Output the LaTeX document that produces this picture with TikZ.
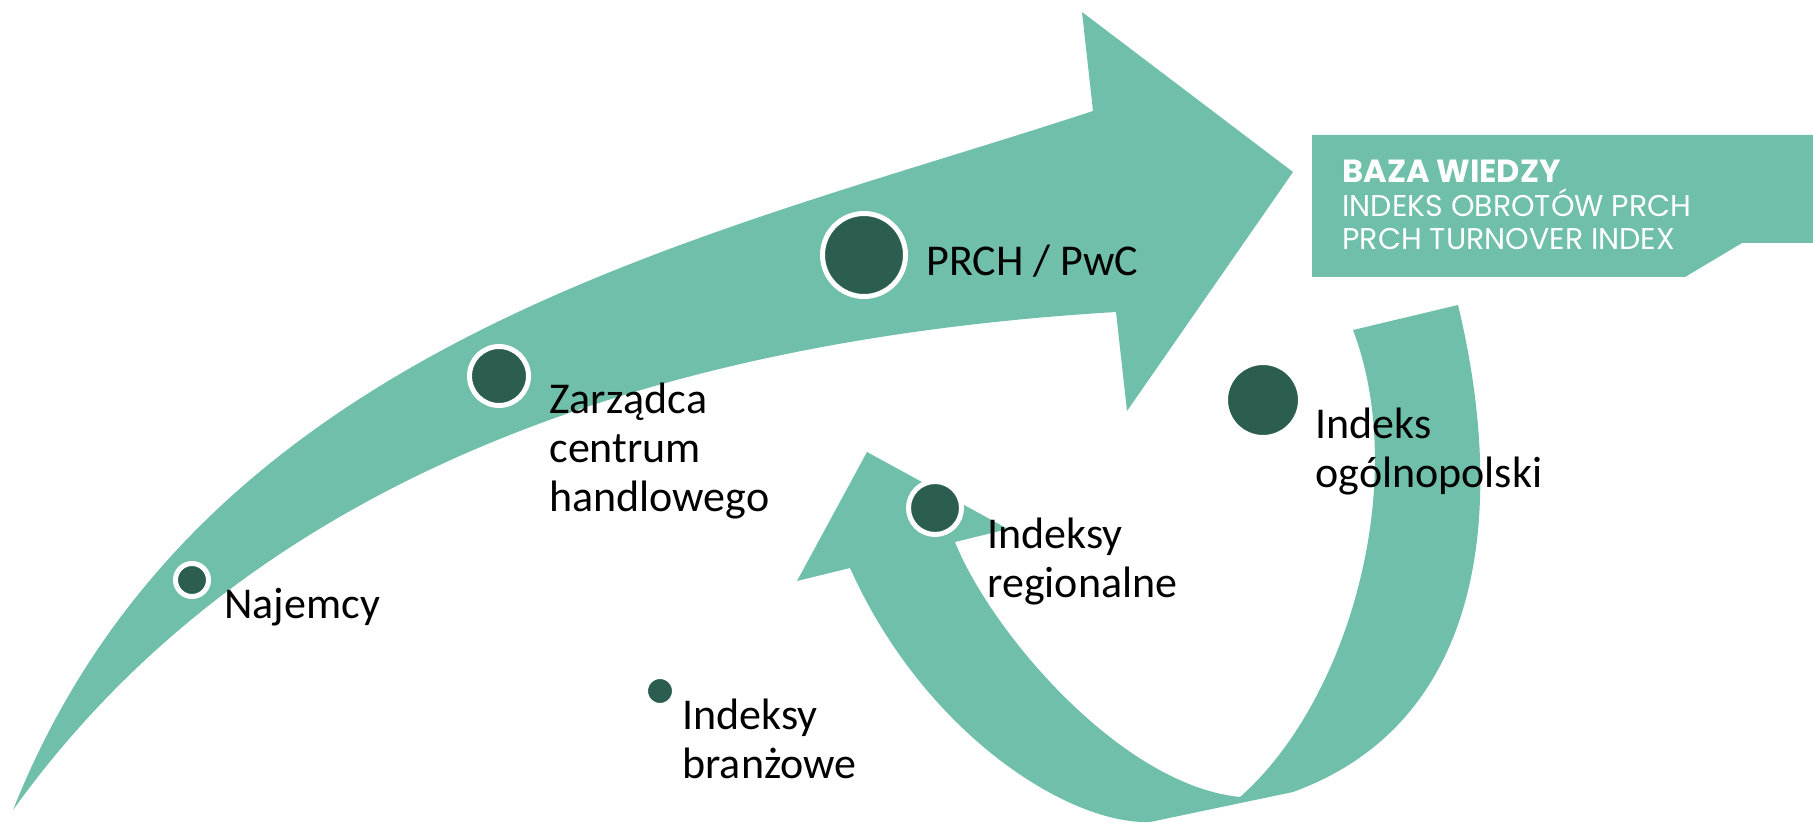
\documentclass[tikz,border=0pt]{standalone}
\usepackage{fontspec}
\setmainfont{Carlito}
\newfontfamily\boxfont{Poppins}
\usepackage{tikz}
\usetikzlibrary{positioning}
\usepackage{xcolor}
\definecolor{BandGreen}{HTML}{6FBFAA}
\definecolor{DotGreen}{HTML}{2B5E50}

\begin{document}
\begin{tikzpicture}[x=0.5pt, y=-0.5pt,
    dot/.style={circle, fill=DotGreen, draw=white, line width=2.5pt, inner sep=0pt},
    lbl/.style={anchor=base west, inner sep=0pt, align=left, font=\fontsize{22}{24.5}\selectfont}]
                \useasboundingbox (0,0) rectangle (1813,823);

                % Big arrow
                \fill[BandGreen] (13,810) .. controls (200,340) and (700,240) .. (1093,111)
                    -- (1082,12) -- (1293,172) -- (1127,411) -- (1116,312)
                    .. controls (650,340) and (250,480) .. (13,810) -- cycle;

                % Turning arrow
                \fill[BandGreen] (867,452) -- (1008,529) -- (955,542)
                    .. controls (990,630) and (1120,785) .. (1240,797)
                    .. controls (1350,700) and (1410,480) .. (1353,330)
                    -- (1458,305) .. controls (1505,500) and (1490,720) .. (1293,792)
                    -- (1150,822) .. controls (1070,825) and (925,735) .. (850,568)
                    -- (797,581) -- cycle;

                % Knowledge base box (base = last line)
                \fill[BandGreen] (1312,135) -- (1813,135) -- (1813,243) -- (1742,243)
                    -- (1685,277) -- (1312,277) -- cycle;
                \node[anchor=base west, inner sep=0pt, align=left, text=white,
                    font=\boxfont\fontsize{15}{16.75}\selectfont] (baza) at (1342,250)
                    {{\fontsize{16}{16.75}\selectfont\bfseries BAZA WIEDZY}\\INDEKS OBROTÓW PRCH\\PRCH TURNOVER INDEX};

                % Dots
                \node[dot, minimum size=16.5pt] (najemcy) at (192,580) {};
                \node[dot, minimum size=29.5pt] (zarzadca) at (499,376) {};
                \node[dot, minimum size=41.5pt] (prch) at (864,255) {};
                \node[dot, minimum size=37.5pt] (ogolny) at (1263,400) {};
                \node[dot, minimum size=26.5pt] (regionalne) at (935,508) {};
                \node[dot, minimum size=14.5pt] (branzowe) at (660,691) {};

                % Labels (placed at the baseline of their last line)
                \node[lbl] (najemcy-txt) at (224,618) {Najemcy};
                \node[lbl] (zarzadca-txt) at (549,511) {Zarządca\\centrum\\handlowego};
                \node[lbl] (prch-txt) at (926,276) {PRCH / PwC};
                \node[lbl] (ogolny-txt) at (1315,487) {Indeks\\ogólnopolski};
                \node[lbl] (regionalne-txt) at (987,597) {Indeksy\\regionalne};
                \node[lbl] (branzowe-txt) at (682,778) {Indeksy\\branżowe};
            \end{tikzpicture}
\end{document}
